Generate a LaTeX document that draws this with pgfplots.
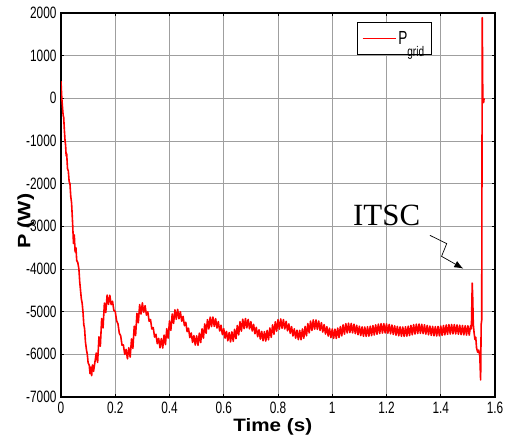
\documentclass[border=0pt]{standalone}
\usepackage{fontspec}
\setmainfont{Liberation Sans}
\newfontfamily\cond[FakeStretch=0.72]{Liberation Sans}
\newfontfamily\serifITSC{Liberation Serif}
\usepackage{pgfplots}
\pgfplotsset{compat=1.18}
\usetikzlibrary{arrows.meta}
\begin{document}
\begin{tikzpicture}
\begin{axis}[
  at={(0,0)}, anchor=south west,
  scale only axis, width=434bp, height=384bp,
  xmin=0, xmax=1.6, ymin=-7000, ymax=2000,
  xtick={0,0.2,...,1.6}, ytick={-7000,-6000,...,2000},
  xticklabels={0,0.2,0.4,0.6,0.8,1,1.2,1.4,1.6},
  yticklabel={\pgfmathprintnumber[fixed,precision=0,1000 sep={}]{\tick}},
  /pgf/number format/assume math mode=true,
  tick label style={font=\cond\fontsize{16.5}{16.5}\selectfont},
  xticklabel style={yshift=-2bp},
  yticklabel style={xshift=-1bp},
  grid=major,
  major grid style={gray!75, line width=0.9pt},
  axis line style={black, line width=1.4pt},
  tick style={black, line width=0.6pt},
  major tick length=3bp,
  tick align=inside,
  xlabel={\scalebox{1.15}[1]{\fontsize{18}{18}\selectfont\bfseries Time (s)}},
  xlabel style={at={(axis description cs:0.488,-0.091)}, anchor=base},
  ylabel={\scalebox{1.2}[1]{\fontsize{18}{18}\selectfont\bfseries P\hspace{5bp}(W)}},
  ylabel style={at={(axis description cs:-0.081,0.458)}, anchor=center, rotate=0},
  legend style={at={(axis description cs:0.854,0.977)}, anchor=north east,
    draw=black, line width=1pt, fill=white, inner xsep=5bp, inner ysep=7bp,
    font=\cond\fontsize{19}{19}\selectfont},
  legend cell align=left,
  legend image code/.code={\draw[red, line width=1.3pt] (0bp,0bp) -- (33bp,0bp);},
]
\addplot[red, line width=1.6pt, line join=round] coordinates {
(0,400)(0.003,0)(0.006,-250)(0.008,-400)(0.010,-450)(0.012,-700)(0.015,-1000)(0.017,-1100)(0.019,-1350)(0.021,-1300)(0.024,-1650)(0.027,-1700)(0.030,-1950)(0.033,-2000)(0.036,-2300)(0.039,-2450)(0.043,-2950)(0.046,-3400)(0.049,-3200)(0.052,-3600)(0.055,-3500)(0.058,-3800)(0.062,-3850)(0.066,-4000)(0.069,-4300)(0.072,-4500)(0.075,-4700)(0.078,-4800)(0.081,-5000)(0.084,-5300)(0.087,-5400)(0.090,-5700)(0.094,-5900)(0.097,-6000)(0.100,-6200)(0.104,-6250)(0.107,-6450)(0.110,-6300)(0.113,-6500)(0.116,-6250)(0.120,-6400)
(0.13,-5970)(0.135,-6190)(0.14,-5590)(0.145,-5810)(0.15,-5160)(0.155,-5380)(0.16,-4800)(0.165,-5020)(0.17,-4610)(0.175,-4830)
(0.18,-4615)(0.185,-4835)(0.19,-4755)(0.195,-4975)(0.2,-4995)(0.205,-5215)(0.21,-5285)(0.215,-5505)(0.22,-5565)(0.225,-5785)
(0.23,-5780)(0.235,-6000)(0.24,-5885)(0.245,-6105)(0.25,-5845)(0.255,-6065)(0.26,-5640)(0.265,-5860)(0.27,-5340)(0.275,-5560)
(0.28,-5040)(0.285,-5260)(0.29,-4835)(0.295,-5055)(0.3,-4795)(0.305,-5015)(0.31,-4860)(0.315,-5080)(0.32,-5005)(0.325,-5225)
(0.33,-5185)(0.335,-5405)(0.34,-5375)(0.345,-5595)(0.35,-5530)(0.355,-5750)(0.36,-5625)(0.365,-5845)(0.37,-5632)(0.375,-5852)
(0.38,-5550)(0.385,-5770)(0.39,-5400)(0.395,-5620)(0.4,-5217)(0.405,-5437)(0.41,-5055)(0.415,-5275)(0.42,-4957)(0.425,-5177)
(0.43,-4945)(0.435,-5165)(0.44,-5002)(0.445,-5222)(0.45,-5110)(0.455,-5330)(0.46,-5248)(0.465,-5468)(0.47,-5387)(0.475,-5607)
(0.48,-5500)(0.485,-5720)(0.49,-5562)(0.495,-5782)(0.5,-5568)(0.505,-5788)(0.51,-5504)(0.515,-5724)(0.52,-5403)(0.525,-5623)
(0.53,-5287)(0.535,-5507)(0.54,-5186)(0.545,-5406)(0.55,-5128)(0.555,-5348)(0.56,-5125)(0.565,-5345)(0.57,-5164)(0.575,-5384)
(0.58,-5233)(0.585,-5453)(0.59,-5318)(0.595,-5538)(0.6,-5400)(0.605,-5620)(0.61,-5462)(0.615,-5682)(0.62,-5489)(0.625,-5709)
(0.63,-5473)(0.635,-5693)(0.64,-5413)(0.645,-5633)(0.65,-5325)(0.655,-5545)(0.66,-5237)(0.665,-5457)(0.67,-5177)(0.675,-5397)
(0.68,-5161)(0.685,-5381)(0.69,-5183)(0.695,-5403)(0.7,-5232)(0.705,-5452)(0.71,-5297)(0.715,-5517)(0.72,-5367)(0.725,-5587)
(0.73,-5426)(0.735,-5646)(0.74,-5462)(0.745,-5682)(0.75,-5468)(0.755,-5688)(0.76,-5440)(0.765,-5660)(0.77,-5382)(0.775,-5602)
(0.78,-5309)(0.785,-5529)(0.79,-5238)(0.795,-5458)(0.8,-5188)(0.805,-5408)(0.81,-5170)(0.815,-5390)(0.82,-5185)(0.825,-5405)
(0.83,-5227)(0.835,-5447)(0.84,-5286)(0.845,-5506)(0.85,-5350)(0.855,-5570)(0.86,-5403)(0.865,-5623)(0.87,-5435)(0.875,-5655)
(0.88,-5438)(0.885,-5658)(0.89,-5405)(0.895,-5625)(0.9,-5346)(0.905,-5566)(0.91,-5278)(0.915,-5498)(0.92,-5221)(0.925,-5441)
(0.93,-5192)(0.935,-5412)(0.94,-5195)(0.945,-5415)(0.95,-5219)(0.955,-5439)(0.96,-5258)(0.965,-5478)(0.97,-5305)(0.975,-5525)
(0.98,-5351)(0.985,-5571)(0.99,-5388)(0.995,-5608)(1,-5407)(1.005,-5627)(1.01,-5409)(1.015,-5629)(1.02,-5385)(1.025,-5605)
(1.03,-5348)(1.035,-5568)(1.04,-5308)(1.045,-5528)(1.05,-5279)(1.055,-5499)(1.06,-5270)(1.065,-5490)(1.07,-5277)(1.075,-5497)
(1.08,-5295)(1.085,-5515)(1.09,-5319)(1.095,-5539)(1.1,-5341)(1.105,-5561)(1.11,-5356)(1.115,-5576)(1.12,-5360)(1.125,-5580)
(1.13,-5354)(1.135,-5574)(1.14,-5342)(1.145,-5562)(1.15,-5326)(1.155,-5546)(1.16,-5308)(1.165,-5528)(1.17,-5292)(1.175,-5512)
(1.18,-5282)(1.185,-5502)(1.19,-5280)(1.195,-5500)(1.2,-5286)(1.205,-5506)(1.21,-5298)(1.215,-5518)(1.22,-5313)(1.225,-5533)
(1.23,-5330)(1.235,-5550)(1.24,-5346)(1.245,-5566)(1.25,-5356)(1.255,-5576)(1.26,-5360)(1.265,-5580)(1.27,-5355)(1.275,-5575)
(1.28,-5340)(1.285,-5560)(1.29,-5322)(1.295,-5542)(1.3,-5305)(1.305,-5525)(1.31,-5293)(1.315,-5513)(1.32,-5290)(1.325,-5510)
(1.33,-5296)(1.335,-5516)(1.34,-5308)(1.345,-5528)(1.35,-5322)(1.355,-5542)(1.36,-5336)(1.365,-5556)(1.37,-5346)(1.375,-5566)
(1.38,-5350)(1.385,-5570)(1.39,-5346)(1.395,-5566)(1.4,-5337)(1.405,-5557)(1.41,-5325)(1.415,-5545)(1.42,-5312)(1.425,-5532)
(1.43,-5303)(1.435,-5523)(1.44,-5300)(1.445,-5520)(1.45,-5303)(1.455,-5523)(1.46,-5310)(1.465,-5530)(1.47,-5318)(1.475,-5538)
(1.48,-5325)(1.485,-5545)(1.49,-5330)(1.495,-5550)(1.5,-5330)(1.505,-5550)(1.51,-5330)
(1.513,-5400)(1.516,-4330)(1.518,-4700)(1.520,-5300)(1.523,-5500)(1.526,-5650)(1.529,-5600)(1.532,-5850)(1.536,-5950)(1.540,-5900)(1.544,-6050)(1.547,-6600)(1.549,-5300)(1.551,-5200)(1.553,1890)(1.555,0)(1.558,-100)(1.560,0)
};
\addlegendentry{P\raisebox{-1.2ex}{\fontsize{14}{14}\selectfont grid}}
\node[font=\serifITSC\fontsize{31}{31}\selectfont, anchor=base west, inner sep=0pt] at (axis cs:1.0765,-2977) {ITSC};
\draw[black, line width=0.7pt, -{Latex[length=9bp,width=7bp]}] (axis cs:1.360,-3211) -- (axis cs:1.422,-3405) -- (axis cs:1.403,-3703) -- (axis cs:1.483,-3991);
\end{axis}
\pgfresetboundingbox
\path (-61bp,-42bp) rectangle (446bp,397bp);
\end{tikzpicture}
\end{document}
